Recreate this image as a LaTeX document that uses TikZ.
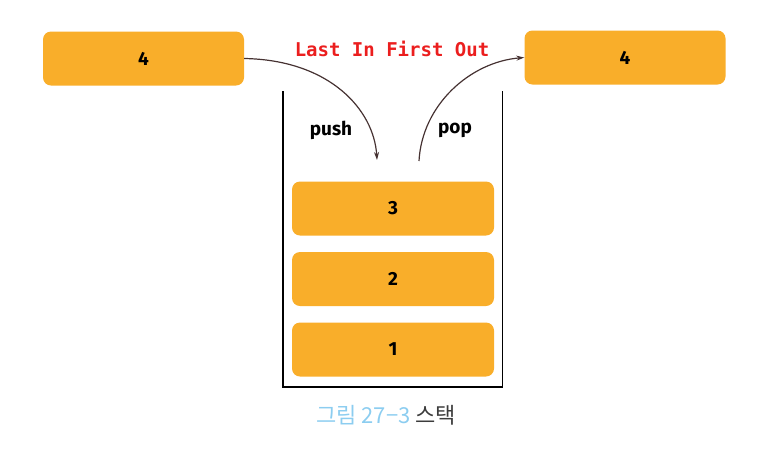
\documentclass[tikz,border=0pt]{standalone}
\usepackage{fontspec}
\setmainfont{Fira Sans}
\newfontfamily\monof{DejaVu Sans Mono}
\newfontfamily\cjk{Noto Sans CJK KR}
\usetikzlibrary{arrows.meta}
\definecolor{boxorange}{RGB}{249,174,42}
\definecolor{lifored}{RGB}{235,30,30}
\definecolor{capblue}{RGB}{140,205,240}
\definecolor{capgray}{RGB}{60,60,60}
\definecolor{linecol}{RGB}{70,50,50}
\begin{document}
\begin{tikzpicture}[x=1pt,y=-1pt,
  itembox/.style={fill=boxorange, rounded corners=8pt, minimum width=201pt, minimum height=54pt, inner sep=0pt, font=\fontsize{19}{22}\selectfont\bfseries},
  opl/.style={font=\fontsize{19}{22}\selectfont\bfseries},
  flow/.style={draw=linecol, line width=1.2pt, -{Stealth[length=8pt,width=5pt]}},
  wall/.style={draw=black, line width=1.2pt}]
\useasboundingbox (0,0) rectangle (774,456);
\node[itembox] (in) at (143.5,58.5) {4};
\node[itembox] (out) at (625,57.5) {4};
\node[itembox, minimum width=202pt] (b3) at (393,208.5) {3};
\node[itembox, minimum width=202pt] (b2) at (393,279) {2};
\node[itembox, minimum width=202pt] (b1) at (393,349.5) {1};
\coordinate (tl) at (283,91);
\coordinate (bl) at (283,387);
\coordinate (br) at (502.5,387);
\coordinate (tr) at (502.5,91);
\draw[wall] (tl) -- (bl) -- (br) -- (tr);
\node[font=\monof\fontsize{19}{22}\selectfont\bfseries, text=lifored] (lifo) at (392,49) {Last In First Out};
\node[opl] (push) at (331,130) {push};
\node[opl] (pop) at (455,130) {pop};
\coordinate (pushend) at (377,160);
\coordinate (popstart) at (419,161);
\draw[flow] (in.east) .. controls (330,60) and (374,110) .. (pushend);
\draw[flow] (popstart) .. controls (422,105) and (470,62) .. (out.west);
\node[font=\cjk\fontsize{22}{26}\selectfont] (cap) at (386,415) {\textcolor{capblue}{그림 27−3} \textcolor{capgray}{스택}};
\end{tikzpicture}
\end{document}
